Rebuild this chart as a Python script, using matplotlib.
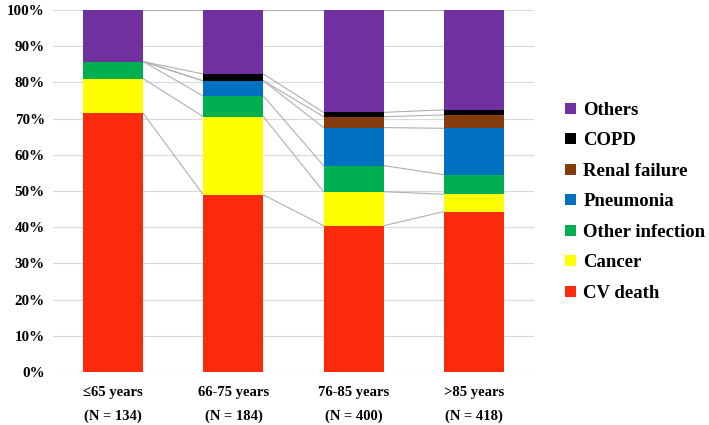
import matplotlib
matplotlib.use("Agg")
import matplotlib.pyplot as plt
from matplotlib.patches import Patch
import numpy as np

categories = ["\u226465 years\n(N = 134)", "66-75 years\n(N = 184)", "76-85 years\n(N = 400)", ">85 years\n(N = 418)"]
series_names = ["CV death", "Cancer", "Other infection", "Pneumonia", "Renal failure", "COPD", "Others"]
cv_death = [71.4, 48.9, 40.4, 44.3]
cancer = [9.6, 21.6, 9.4, 4.8]
other_infection = [4.7, 5.7, 7.2, 5.4]
pneumonia = [0.0, 4.2, 10.5, 12.8]
renal_failure = [0.0, 0.0, 3.0, 3.7]
copd = [0.0, 1.9, 1.2, 1.4]
others = [14.3, 17.7, 28.3, 27.6]
colors = ["#FA2A0A", "#FFFF00", "#00B050", "#0070C0", "#843C0C", "#000000", "#7030A0"]

data = [cv_death, cancer, other_infection, pneumonia, renal_failure, copd, others]

plt.rcParams['font.family'] = ['Liberation Serif', 'DejaVu Serif']
plt.rcParams['font.weight'] = 'bold'

fig = plt.figure(figsize=(7.09, 4.25), dpi=100)
ax = fig.add_axes([0.075, 0.1247, 0.678, 0.852])

x = np.arange(len(categories))
w = 0.5
bottom = np.zeros(len(categories))
tops = []
for vals, col, name in zip(data, colors, series_names):
    v = np.array(vals)
    ax.bar(x, v, w, bottom=bottom, color=col, zorder=3, label=name)
    bottom = bottom + v
    tops.append(bottom.copy())

for t in tops:
    for j in range(len(categories) - 1):
        ax.plot([x[j] + w / 2, x[j + 1] - w / 2], [t[j], t[j + 1]], color="#B0B0B0", lw=0.8, zorder=2)

ax.set_xlim(-0.5, len(categories) - 0.5)
ax.set_ylim(0, 100)
ax.set_yticks(np.arange(0, 101, 10))
ax.set_yticklabels([f"{v}%" for v in range(0, 101, 10)], fontsize=10.8, fontweight='bold')
ax.set_xticks(x)
ax.set_xticklabels(categories, fontsize=10.5, fontweight='bold', linespacing=2.05)
ax.tick_params(axis='both', length=0)
ax.tick_params(axis='x', pad=10)
ax.tick_params(axis='y', pad=6)
ax.yaxis.grid(True, color="#D9D9D9", lw=0.8, zorder=0)
ax.set_axisbelow(True)
for s in ax.spines.values():
    s.set_visible(False)

handles = [Patch(facecolor=c, edgecolor='none') for c in colors][::-1]
labels = series_names[::-1]
fig.legend(handles, labels, loc='center left', bbox_to_anchor=(0.787, 0.525), frameon=False,
           prop={'family': ['Liberation Serif'], 'weight': 'bold', 'size': 13.5},
           handlelength=0.55, handleheight=0.55, handletextpad=0.4, labelspacing=0.72, borderaxespad=0)

fig.savefig("out.png", dpi=100)
